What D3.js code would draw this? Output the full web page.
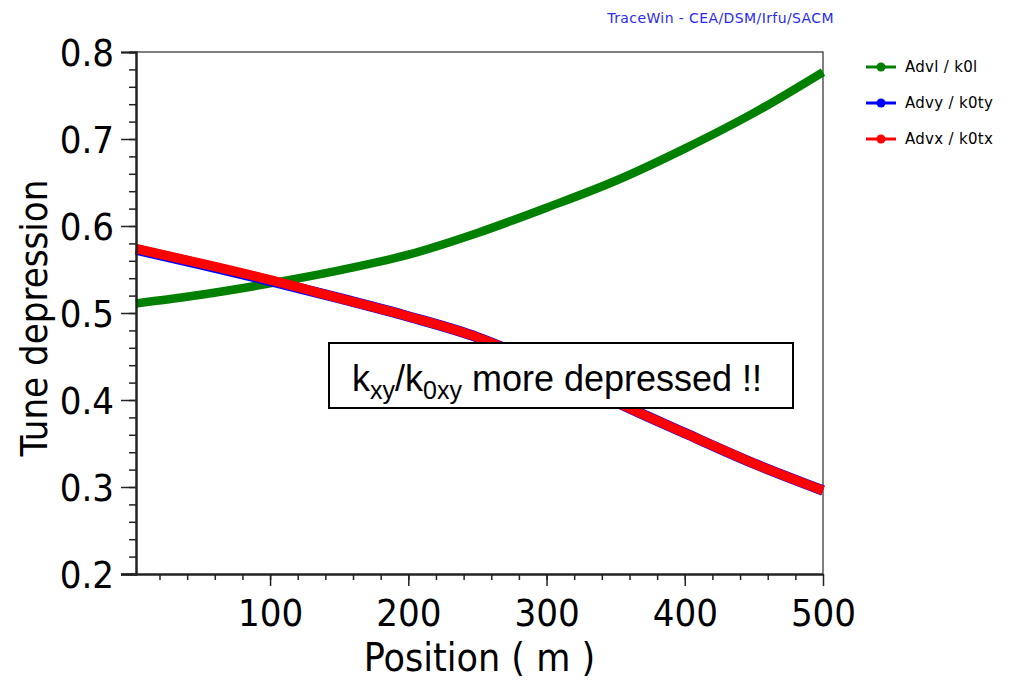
<!DOCTYPE html>
<html>
<head>
<meta charset="utf-8">
<script src="https://cdn.jsdelivr.net/npm/d3@7/dist/d3.min.js"></script>
<style>
  html, body { margin: 0; padding: 0; background: #fff; }
  svg { display: block; }
</style>
</head>
<body>
<svg id="chart" width="1016" height="681"></svg>
<script>
// Position along the linac (m)
const positions = [3, 50, 100, 150, 200, 250, 300, 350, 400, 450, 500];
// Tune depression ratios
const advlK0l  = [0.511, 0.521, 0.534, 0.549, 0.567, 0.592, 0.621, 0.652, 0.689, 0.730, 0.777];
const advyK0ty = [0.573, 0.556, 0.537, 0.517, 0.496, 0.472, 0.438, 0.398, 0.362, 0.327, 0.296];
const advxK0tx = [0.574, 0.557, 0.538, 0.517, 0.496, 0.472, 0.438, 0.398, 0.362, 0.327, 0.296];

const xTicks = [100, 200, 300, 400, 500];
const yTicks = [0.2, 0.3, 0.4, 0.5, 0.6, 0.7, 0.8];

const seriesNames = ["Advl / k0l", "Advy / k0ty", "Advx / k0tx"];
const seriesColors = ["#008000", "#0000ff", "#ff0000"];

const svg = d3.select("#chart");
const m = { left: 136, right: 823, top: 52, bottom: 574 };

const x = d3.scaleLinear().domain([3, 500]).range([m.left, m.right]);
const y = d3.scaleLinear().domain([0.2, 0.8]).range([m.bottom, m.top]);

const axisFont = "'DejaVu Sans Condensed', 'DejaVu Sans', sans-serif";
const smallFont = "'DejaVu Sans', sans-serif";

// Frame (top and right edges)
svg.append("path")
  .attr("d", `M${m.left},${m.top}H${m.right}V${m.bottom}`)
  .attr("fill", "none").attr("stroke", "#555").attr("stroke-width", 1.5);

// Curves
const line = d3.line()
  .x((d, i) => x(positions[i]))
  .y(d => y(d))
  .curve(d3.curveMonotoneX);

const plot = svg.append("g");
plot.append("path").datum(advlK0l)
  .attr("d", line).attr("fill", "none")
  .attr("stroke", seriesColors[0]).attr("stroke-width", 8.5);
plot.append("path").datum(advyK0ty)
  .attr("d", line).attr("fill", "none")
  .attr("stroke", seriesColors[1]).attr("stroke-width", 10.5);
plot.append("path").datum(advxK0tx)
  .attr("d", line).attr("fill", "none")
  .attr("stroke", seriesColors[2]).attr("stroke-width", 9.5);

// Y axis: major ticks every 0.1, minor every 0.02
const yAxis = d3.axisLeft(y).tickValues(yTicks).tickSize(15).tickFormat(d3.format(".1f"));
const yMinor = d3.axisLeft(y).tickValues(d3.range(0.22, 0.8, 0.02)).tickSize(7).tickFormat("");
const gyMinor = svg.append("g").attr("transform", `translate(${m.left},0)`).call(yMinor);
const gy = svg.append("g").attr("transform", `translate(${m.left},0)`).call(yAxis);
[gy, gyMinor].forEach(g => {
  g.select(".domain").attr("stroke", "#222").attr("stroke-width", 2);
  g.selectAll(".tick line").attr("stroke", "#222").attr("stroke-width", 1.5);
});
gy.selectAll(".tick text")
  .attr("x", -22).attr("dy", "0.36em")
  .attr("font-family", axisFont).attr("font-size", 38).attr("fill", "#000");

// X axis: major ticks every 100, minor every 20
const xAxis = d3.axisBottom(x).tickValues(xTicks).tickSize(12).tickFormat(d3.format("d"));
const xMinor = d3.axisBottom(x).tickValues(d3.range(20, 500, 20)).tickSize(6).tickFormat("");
const gxMinor = svg.append("g").attr("transform", `translate(0,${m.bottom})`).call(xMinor);
const gx = svg.append("g").attr("transform", `translate(0,${m.bottom})`).call(xAxis);
[gx, gxMinor].forEach(g => {
  g.select(".domain").attr("stroke", "#222").attr("stroke-width", 2).attr("d", `M${m.left - 15},0.5H${m.right}`);
  g.selectAll(".tick line").attr("stroke", "#222").attr("stroke-width", 1.5);
});
gx.selectAll(".tick text")
  .attr("y", 25).attr("dy", "0.71em")
  .attr("font-family", axisFont).attr("font-size", 38).attr("fill", "#000");

// Axis titles
svg.append("text")
  .attr("x", (m.left + m.right) / 2).attr("y", 671)
  .attr("text-anchor", "middle")
  .attr("font-family", axisFont).attr("font-size", 39)
  .text("Position ( m )");
svg.append("text")
  .attr("transform", `translate(47,${(m.top + m.bottom) / 2 + 5}) rotate(-90)`)
  .attr("text-anchor", "middle")
  .attr("font-family", axisFont).attr("font-size", 38)
  .text("Tune depression");

// Header credit
svg.append("text")
  .attr("x", 834).attr("y", 23)
  .attr("text-anchor", "end")
  .attr("font-family", smallFont).attr("font-size", 14)
  .attr("letter-spacing", 0.4)
  .attr("fill", "#2a2af0")
  .text("TraceWin - CEA/DSM/Irfu/SACM");

// Legend
const legend = svg.append("g").attr("transform", "translate(866,67)");
seriesNames.forEach((name, i) => {
  const row = legend.append("g").attr("transform", `translate(0,${i * 36})`);
  row.append("line").attr("x1", 0).attr("x2", 30).attr("y1", 0).attr("y2", 0)
    .attr("stroke", seriesColors[i]).attr("stroke-width", 3);
  row.append("circle").attr("cx", 15).attr("cy", 0).attr("r", 4.5).attr("fill", seriesColors[i]);
  row.append("text").attr("x", 39).attr("y", 0).attr("dy", "0.35em")
    .attr("font-family", smallFont).attr("font-size", 15).attr("letter-spacing", 0.3)
    .attr("fill", "#000")
    .text(name);
});

// Annotation box
const note = svg.append("g");
note.append("rect")
  .attr("x", 329).attr("y", 343).attr("width", 464).attr("height", 65)
  .attr("fill", "#fff").attr("stroke", "#000").attr("stroke-width", 2);
const t = note.append("text")
  .attr("x", 352).attr("y", 391)
  .attr("font-family", "'Liberation Sans', Arial, sans-serif").attr("font-size", 36)
  .attr("fill", "#000");
t.append("tspan").text("k");
t.append("tspan").attr("font-size", 25).attr("dy", 8).text("xy");
t.append("tspan").attr("dy", -8).text("/k");
t.append("tspan").attr("font-size", 25).attr("dy", 8).text("0xy");
t.append("tspan").attr("dy", -8).text(" more depressed !!");
</script>
</body>
</html>
